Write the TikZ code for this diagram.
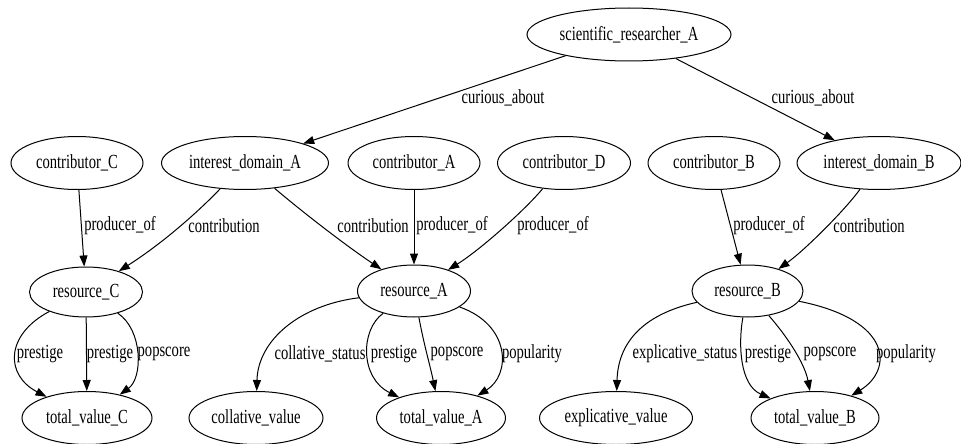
\documentclass[tikz,border=0pt]{standalone}
\usepackage{graphicx}
\usepackage{fontspec}
\newfontfamily\gvfont{Liberation Serif}
\newcommand\gv[1]{\scalebox{0.73}[1]{\gvfont\fontsize{20}{24}\selectfont #1}}
\usetikzlibrary{shapes.geometric,arrows.meta}
\begin{document}
\begin{tikzpicture}[x=1pt,y=1pt,
  ent/.style={ellipse,draw,line width=1pt,inner sep=0pt,minimum height=53pt},
  lab/.style={inner sep=0pt},
  edge/.style={line width=1pt,-{Triangle[length=11pt,width=8pt]}}]
\useasboundingbox (0,0) rectangle (961,-444);
% row 1
\node[ent,minimum width=204pt] (sci) at (629,-34.5) {\gv{scientific\_researcher\_A}};
% row 2
\node[ent,minimum width=132pt] (cC) at (77,-163) {\gv{contributor\_C}};
\node[ent,minimum width=167pt] (idA) at (245,-163) {\gv{interest\_domain\_A}};
\node[ent,minimum width=132pt] (cA) at (414,-163) {\gv{contributor\_A}};
\node[ent,minimum width=133pt] (cD) at (564,-163) {\gv{contributor\_D}};
\node[ent,minimum width=132pt] (cB) at (714,-163) {\gv{contributor\_B}};
\node[ent,minimum width=164pt] (idB) at (879,-163) {\gv{interest\_domain\_B}};
% row 3
\node[ent,minimum width=113pt,minimum height=50pt] (rC) at (86,-292) {\gv{resource\_C}};
\node[ent,minimum width=113pt,minimum height=52pt] (rA) at (414,-291) {\gv{resource\_A}};
\node[ent,minimum width=111pt,minimum height=52pt] (rB) at (747.5,-291) {\gv{resource\_B}};
% row 4
\node[ent,minimum width=130pt] (tvC) at (87,-418) {\gv{total\_value\_C}};
\node[ent,minimum width=134pt] (cv) at (256,-418) {\gv{collative\_value}};
\node[ent,minimum width=129pt] (tvA) at (441,-418) {\gv{total\_value\_A}};
\node[ent,minimum width=153pt] (ev) at (616,-418) {\gv{explicative\_value}};
\node[ent,minimum width=128pt] (tvB) at (815,-418) {\gv{total\_value\_B}};

% top edges
\draw[edge] (sci) -- (idA);
\draw[edge] (sci) -- (idB);
\node[lab] (l1) at (503,-98) {\gv{curious\_about}};
\node[lab] (l2) at (813,-98) {\gv{curious\_about}};

% row 2 -> row 3
\draw[edge] (cC) -- (rC);
\node[lab] (l3) at (120,-226) {\gv{producer\_of}};
\draw[edge] (idA) .. controls (195,-215) and (160,-245) .. (rC);
\node[lab] (l4) at (224,-226) {\gv{contribution}};
\draw[edge] (idA) .. controls (300,-210) and (345,-245) .. (rA);
\node[lab] (l5) at (373,-226) {\gv{contribution}};
\draw[edge] (cA) -- (rA);
\node[lab] (l6) at (452,-226) {\gv{producer\_of}};
\draw[edge] (cD) .. controls (525,-210) and (480,-250) .. (rA);
\node[lab] (l7) at (553,-226) {\gv{producer\_of}};
\draw[edge] (cB) -- (rB);
\node[lab] (l8) at (769,-226) {\gv{producer\_of}};
\draw[edge] (idB) .. controls (845,-210) and (805,-250) .. (rB);
\node[lab] (l9) at (869,-226) {\gv{contribution}};

% resource_C -> total_value_C
\draw[edge] (rC) .. controls (5,-335) and (5,-375) .. (tvC);
\node[lab] (l10) at (40,-354) {\gv{prestige}};
\draw[edge] (rC) -- (tvC);
\node[lab] (l11) at (110,-354) {\gv{prestige}};
\draw[edge] (rC) .. controls (143,-330) and (143,-378) .. (tvC);
\node[lab] (l12) at (164,-354) {\gv{popscore}};

% resource_A
\draw[edge] (rA) .. controls (300,-305) and (258,-340) .. (cv);
\node[lab] (l13) at (320,-354) {\gv{collative\_status}};
\draw[edge] (rA) .. controls (360,-330) and (360,-378) .. (tvA);
\node[lab] (l14) at (394,-354) {\gv{prestige}};
\draw[edge] (rA) .. controls (424,-345) and (430,-365) .. (tvA);
\node[lab] (l15) at (457,-354) {\gv{popscore}};
\draw[edge] (rA) .. controls (511,-325) and (511,-375) .. (tvA);
\node[lab] (l16) at (532,-354) {\gv{popularity}};

% resource_B
\draw[edge] (rB) .. controls (640,-315) and (618,-345) .. (ev);
\node[lab] (l17) at (685,-354) {\gv{explicative\_status}};
\draw[edge] (rB) .. controls (738,-345) and (740,-385) .. (tvB);
\node[lab] (l18) at (768,-354) {\gv{prestige}};
\draw[edge] (rB) .. controls (790,-340) and (805,-365) .. (tvB);
\node[lab] (l19) at (830,-354) {\gv{popscore}};
\draw[edge] (rB) .. controls (893,-320) and (893,-370) .. (tvB);
\node[lab] (l20) at (906,-354) {\gv{popularity}};
\end{tikzpicture}
\end{document}
